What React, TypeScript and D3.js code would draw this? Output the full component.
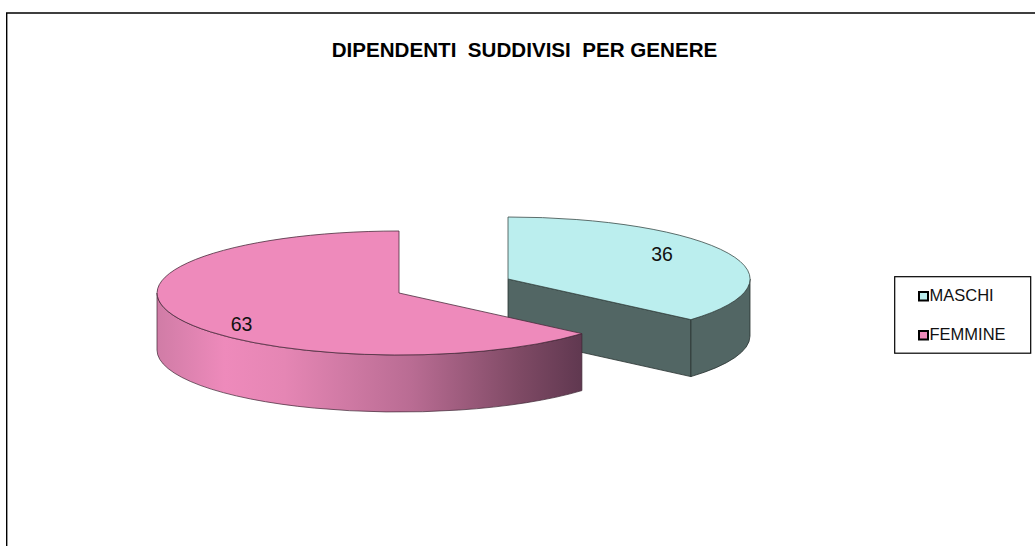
import React from "react";
import * as d3 from "d3";

const categories = ["MASCHI", "FEMMINE"];
const values = [36, 63];
const topColors = ["#bbeeee", "#ee8abb"];
const title = "DIPENDENTI  SUDDIVISI  PER GENERE";

const W = 1035;
const H = 546;
const RX = 242;
const RY = 62;
const DEPTH = 57;
const FONT = "Liberation Sans, Arial, sans-serif";
const centres = [
  { x: 508, y: 279 },
  { x: 399, y: 293 },
];
const labelPos = [
  { x: 662, y: 260.5 },
  { x: 241.5, y: 331 },
];

const pie = d3.pie<number>().sort(null).startAngle(0).endAngle(2 * Math.PI);
const arcs = pie(values);
const topArc = d3.arc<d3.PieArcDatum<number>>().innerRadius(0).outerRadius(1);

const ex = (a: number) => RX * Math.sin(a);
const ey = (a: number) => -RY * Math.cos(a);

// Outer curved wall between two angles (angles clockwise from the top)
function wall(a0: number, a1: number) {
  const large = Math.abs(a1 - a0) > Math.PI ? 1 : 0;
  const sweep = a1 > a0 ? 1 : 0;
  return `M${ex(a0)},${ey(a0)} A${RX},${RY} 0 ${large} ${sweep} ${ex(a1)},${ey(a1)} L${ex(a1)},${ey(a1) + DEPTH} A${RX},${RY} 0 ${large} ${sweep ? 0 : 1} ${ex(a0)},${ey(a0) + DEPTH} Z`;
}

export default function App() {
  const [m, f] = arcs;
  const mEnd = m.endAngle;
  const fStart = f.startAngle;
  const fc = centres[1];
  const mc = centres[0];
  return (
    <svg
      width={W}
      height={H}
      style={{ position: "fixed", left: 0, top: 0, background: "#fff" }}
      fontFamily={FONT}
    >
      <defs>
        <linearGradient id="pinkWall" gradientUnits="userSpaceOnUse" x1={-RX} x2={ex(fStart)} y1={0} y2={0}>
          <stop offset="0" stopColor="#d07ca6" />
          <stop offset="0.16" stopColor="#ee8abb" />
          <stop offset="0.3" stopColor="#e586b4" />
          <stop offset="0.6" stopColor="#b96c93" />
          <stop offset="0.85" stopColor="#7f4a65" />
          <stop offset="1" stopColor="#603850" />
        </linearGradient>
      </defs>

      {/* chart frame */}
      <path d="M6.7,546 V13 H1035" fill="none" stroke="#000" strokeWidth={1.4} />

      <text x={524.5} y={57} textAnchor="middle" fontSize={20.6} fontWeight={700} fill="#000" style={{ whiteSpace: "pre" }}>
        {title}
      </text>

      {/* MASCHI */}
      <g transform={`translate(${mc.x},${mc.y})`}>
        <path
          d={`M0,0 L${ex(mEnd)},${ey(mEnd)} L${ex(mEnd)},${ey(mEnd) + DEPTH} L0,${DEPTH} Z`}
          fill="#526664"
          stroke="#26302f"
          strokeWidth={0.8}
        />
        <path d={wall(Math.PI / 2, mEnd)} fill="#526664" stroke="#26302f" strokeWidth={0.8} />
        <g transform={`scale(${RX},${RY})`}>
          <path d={topArc(m) ?? ""} fill={topColors[0]} stroke="#3a4a48" strokeWidth={0.8} vectorEffect="non-scaling-stroke" />
        </g>
      </g>

      {/* FEMMINE */}
      <g transform={`translate(${fc.x},${fc.y})`}>
        <path d={wall(fStart, 1.5 * Math.PI)} fill="url(#pinkWall)" stroke="#3c2432" strokeWidth={0.7} />
        <g transform={`scale(${RX},${RY})`}>
          <path d={topArc(f) ?? ""} fill={topColors[1]} stroke="#4a2c3c" strokeWidth={0.8} vectorEffect="non-scaling-stroke" />
        </g>
      </g>

      {values.map((v, i) => (
        <text key={i} x={labelPos[i].x} y={labelPos[i].y} textAnchor="middle" fontSize={19.5} fill="#111">
          {v}
        </text>
      ))}

      {/* legend */}
      <rect x={894.7} y={276.7} width={136} height={76.5} fill="#fff" stroke="#000" strokeWidth={1.2} />
      {categories.map((c, i) => (
        <g key={c}>
          <rect x={919} y={292 + i * 39} width={9} height={8.5} fill={topColors[i]} stroke="#000" strokeWidth={2} />
          <text x={929.5} y={301 + i * 39} fontSize={16.5} fill="#111">
            {c}
          </text>
        </g>
      ))}
    </svg>
  );
}
